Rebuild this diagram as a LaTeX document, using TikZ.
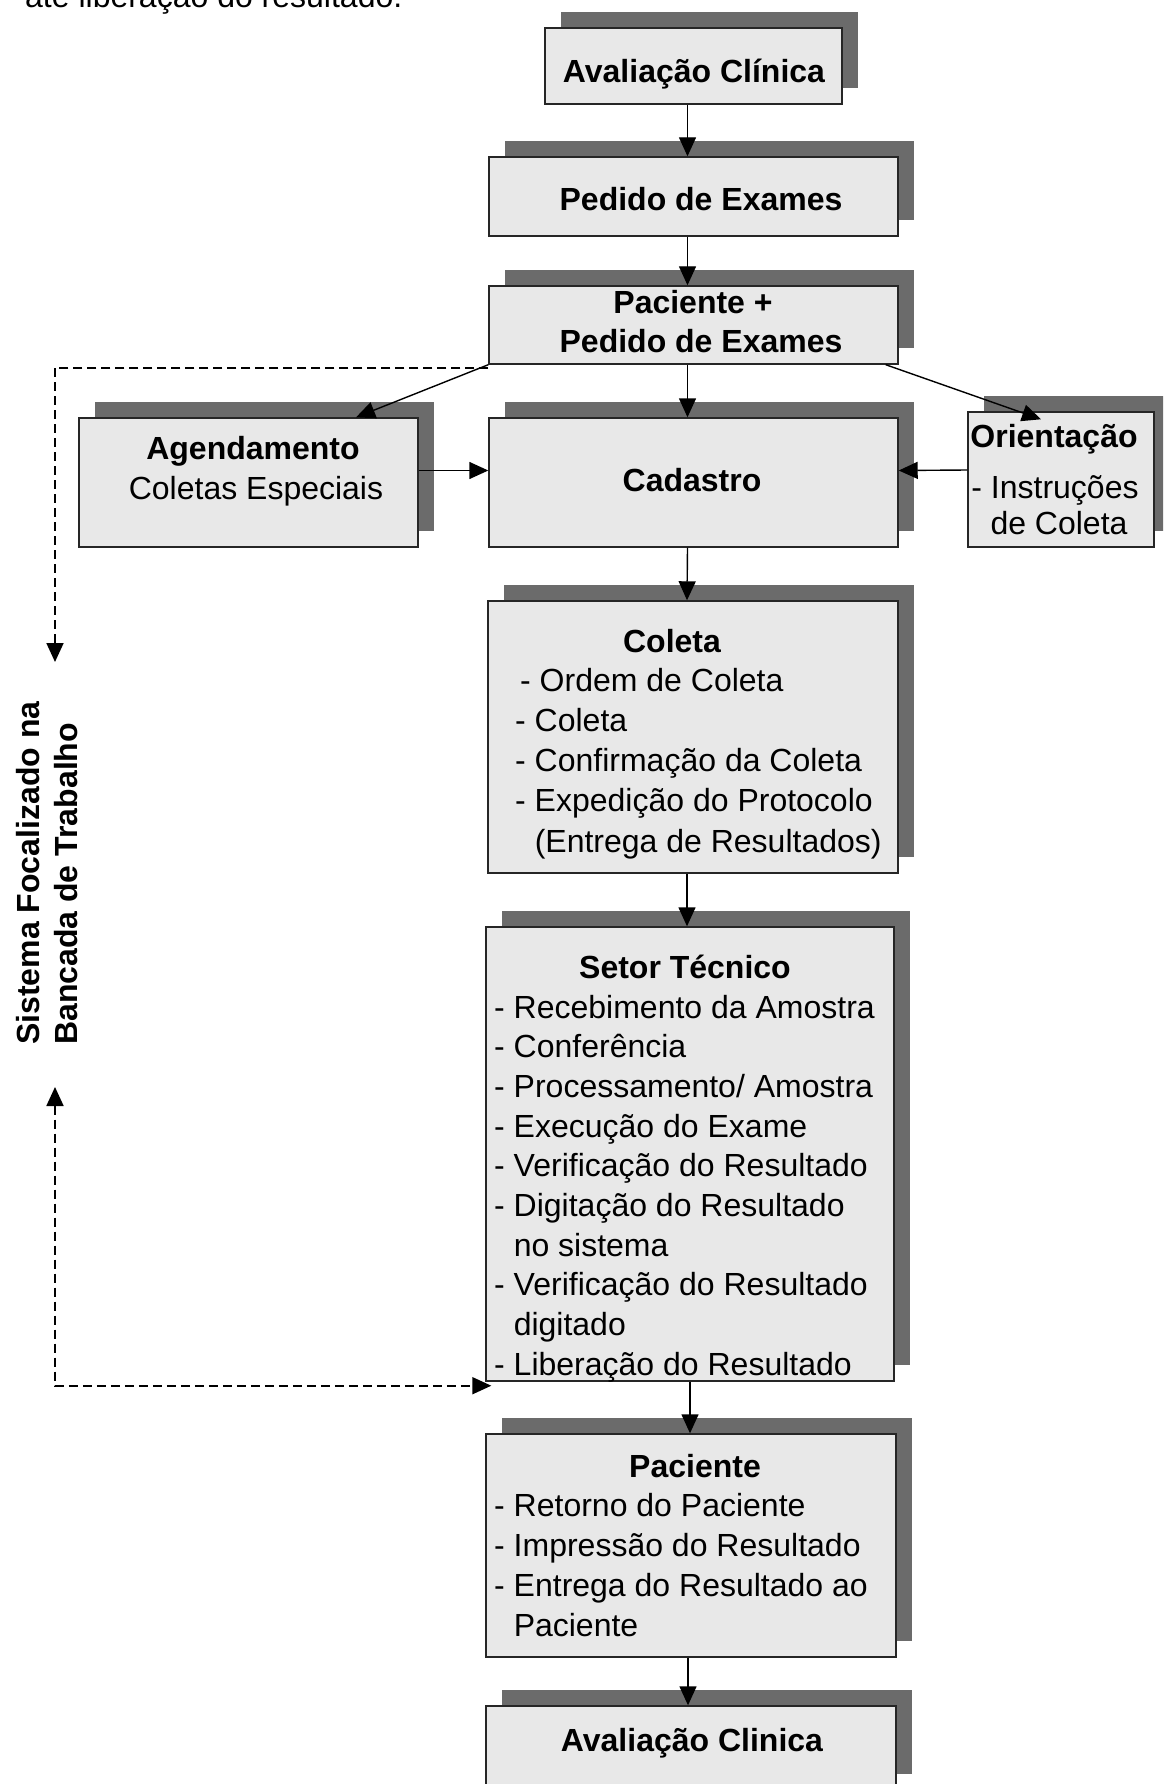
\documentclass[tikz,border=0pt]{standalone}
\usepackage{fontspec}
\setmainfont{Liberation Sans}
\usetikzlibrary{arrows.meta,shadows,calc}
\begin{document}
\begin{tikzpicture}[x=1pt,y=-1pt,
  box/.style={draw=black!85, line width=1.4pt, fill=black!9, inner sep=0pt,
    general shadow={fill=black!58, shadow xshift=16pt, shadow yshift=16pt}},
  tip/.style={-{Triangle[length=19pt,width=17pt]}},
  arr/.style={line width=1.4pt, tip},
  dashline/.style={line width=1.8pt, dash pattern=on 9pt off 5pt},
  tb/.style={font=\fontsize{32}{40}\selectfont\bfseries, inner sep=0pt},
  tr/.style={font=\fontsize{32}{40}\selectfont, inner sep=0pt}]
\useasboundingbox (0,0) rectangle (1163,1784);
\clip (0,0) rectangle (1163,1784);
\fill[white] (0,0) rectangle (1163,1784);

\node[tr, anchor=base west] (top) at (25,8) {até liberação do resultado.};

% boxes
\node[box, minimum width=297pt, minimum height=76pt] (avc1) at (693.5,66) {};
\node[box, minimum width=409pt, minimum height=79pt] (ped) at (693.5,196.5) {};
\node[box, minimum width=409pt, minimum height=78pt] (pacp) at (693.5,325) {};
\node[box, minimum width=339pt, minimum height=129pt] (agend) at (248.5,482.5) {};
\node[box, minimum width=409pt, minimum height=129pt] (cad) at (693.5,482.5) {};
\node[box, minimum width=186pt, minimum height=135pt] (ori) at (1061,479.5) {};
\node[box, minimum width=410pt, minimum height=272pt] (col) at (693,737) {};
\node[box, minimum width=408pt, minimum height=454pt] (set) at (690,1154) {};
\node[box, minimum width=410pt, minimum height=223pt] (pac) at (691,1545.5) {};
\node[box, minimum width=410pt, minimum height=84pt] (avc2) at (691,1748) {};

% texts
\node[tb, anchor=base] (tavc1) at (694,83) {Avaliação Clínica};
\node[tb, anchor=base] (tped) at (701,211) {Pedido de Exames};
\node[tb, anchor=base] (tpacp1) at (693,314) {Paciente +};
\node[tb, anchor=base] (tpacp2) at (701,352) {Pedido de Exames};
\node[tb, anchor=base] (tagend1) at (253,459) {Agendamento};
\node[tr, anchor=base] (tagend2) at (256,499) {Coletas Especiais};
\node[tb, anchor=base] (tcad) at (692,491) {Cadastro};
\node[tb, anchor=base] (tori1) at (1054,447) {Orientação};
\node[tr, anchor=base] (tori2) at (1055,498) {- Instruções};
\node[tr, anchor=base] (tori3) at (1059,534) {de Coleta};

\node[tb, anchor=base] (tcol) at (672,652) {Coleta};
\node[tr, anchor=base west] (tcol1) at (520,691) {- Ordem de Coleta};
\foreach \t [count=\i from 2] in {- Coleta, - Confirmação da Coleta, - Expedição do Protocolo, \hphantom{- }(Entrega de Resultados)}
  \node[tr, anchor=base west] (tcol\i) at (515,{691+40.25*(\i-1)}) {\t};

\node[tb, anchor=base] (tset) at (685,978) {Setor Técnico};
\foreach \t [count=\i] in {- Recebimento da Amostra, - Conferência, - Processamento/ Amostra, - Execução do Exame, - Verificação do Resultado, - Digitação do Resultado, \hphantom{- }no sistema, - Verificação do Resultado, \hphantom{- }digitado, - Liberação do Resultado}
  \node[tr, anchor=base west] (tset\i) at (494,{1018+39.7*(\i-1)}) {\t};

\node[tb, anchor=base] (tpac) at (695,1477) {Paciente};
\foreach \t [count=\i] in {- Retorno do Paciente, - Impressão do Resultado, - Entrega do Resultado ao, \hphantom{- }Paciente}
  \node[tr, anchor=base west] (tpac\i) at (494,{1516+40*(\i-1)}) {\t};

\node[tb, anchor=base] (tavc2) at (692,1751) {Avaliação Clinica};

% side label
\node[tb, anchor=base west, rotate=90] (sis1) at (39,1045) {Sistema Focalizado na};
\node[tb, anchor=base west, rotate=90] (sis2) at (77,1045) {Bancada de Trabalho};

% connectors
\draw[arr] ([xshift=-6pt]avc1.south) -- ([xshift=-6pt]ped.north);
\draw[arr] ([xshift=-6pt]ped.south) -- ([xshift=-6pt]pacp.north);
\draw[arr] ([xshift=-6pt]pacp.south) -- ([xshift=-6pt]cad.north);
\draw[arr] (pacp.south west) -- ($(agend.north west)!0.816!(agend.north east)$);
\draw[arr] ([xshift=-13pt]pacp.south east) -- ([xshift=-20pt,yshift=-8pt]ori.north);
\draw[arr] ([yshift=12pt]agend.east) -- ([yshift=12pt]cad.west);
\draw[arr] ([yshift=9.5pt]ori.west) -- ([yshift=12pt]cad.east);
\draw[arr] ([xshift=-6pt]cad.south) -- ([xshift=-6pt]col.north);
\draw[arr] ([xshift=-6pt]col.south) -- ([xshift=-6pt]col.south |- set.north);
\draw[arr] (set.south) -- (set.south |- pac.north);
\draw[arr] ([xshift=-3pt]pac.south) -- ([xshift=-3pt]avc2.north);

% dashed feedback
\coordinate (d2) at (55,662);
\coordinate (d3) at (55,1087);
\draw[dashline, tip] ([yshift=-3pt]pacp.south west) -| (d2);
\draw[dashline, {Triangle[length=19pt,width=17pt]}-{Triangle[length=19pt,width=17pt]}] (d3) |- ([yshift=-4pt,xshift=6pt]set.south west);
\end{tikzpicture}
\end{document}
